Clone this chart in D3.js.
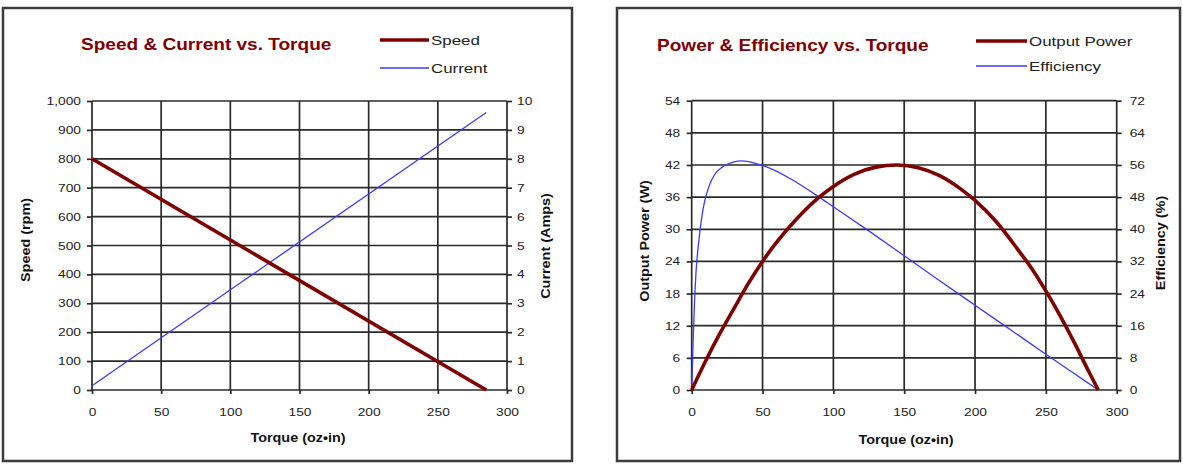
<!DOCTYPE html>
<html>
<head>
<meta charset="utf-8">
<script src="https://cdn.jsdelivr.net/npm/d3@7"></script>
<style>
  body { margin: 0; background: #fff; }
  svg text { font-family: "Liberation Sans", Arial, sans-serif; }
</style>
</head>
<body>
<div id="chart"></div>
<script>
// ---- DATA ----
const torqueTicks  = [0, 50, 100, 150, 200, 250, 300];
const speedTicks   = [0, 100, 200, 300, 400, 500, 600, 700, 800, 900, 1000];
const currentTicks = [0, 1, 2, 3, 4, 5, 6, 7, 8, 9, 10];
const powerTicks   = [0, 6, 12, 18, 24, 30, 36, 42, 48, 54];
const effTicks     = [0, 8, 16, 24, 32, 40, 48, 56, 64, 72];

// speed (rpm) and current (A) vs torque (oz-in)
const speedTorque   = [0, 285];
const speedRpm      = [800, 0];
const currentTorque = [0, 285];
const currentAmps   = [0.15, 9.6];

// output power (W) vs torque
const powerTorque = [0, 10, 20, 30, 40, 50, 60, 75, 90, 100, 115, 130, 145, 160, 175, 190, 200, 215, 230, 240, 250, 260, 270, 280, 287];
const powerWatts  = [0, 5.5, 10.6, 15.3, 19.9, 24, 27.6, 32.2, 36, 38, 40.3, 41.6, 42, 41.5, 40, 37.5, 35.4, 31.4, 26.3, 22.7, 18.5, 13.9, 8.9, 3.6, 0];

// efficiency (%) vs torque
const effTorque = [0, 1, 2, 3, 5, 8, 12, 16, 22, 30, 35, 45, 55, 70, 90, 100, 125, 150, 175, 200, 225, 250, 270, 287];
const effPct    = [0, 12, 22, 29, 37, 45, 50.5, 53.5, 55.6, 56.8, 57, 56.4, 55.2, 52.5, 48, 45.6, 39.6, 33.4, 27.2, 21.1, 15.0, 8.9, 4.1, 0];

const DARKRED = "#800000";
const BLUE = "#3a3aff";
const GRID = "#2a2a2a";

const svg = d3.select("#chart").append("svg")
    .attr("width", 1183)
    .attr("height", 464);

// stretch text horizontally like the (widened) original picture
function stretch(sel, f) {
    sel.each(function () {
        const w = this.getComputedTextLength();
        this.setAttribute("textLength", w * f);
        this.setAttribute("lengthAdjust", "spacingAndGlyphs");
    });
}

function zip(xs, ys) { return xs.map((t, i) => [t, ys[i]]); }

function drawPanel(p) {
    const g = svg.append("g");

    // frame
    g.append("rect")
        .attr("x", p.box[0]).attr("y", p.box[1])
        .attr("width", p.box[2] - p.box[0]).attr("height", p.box[3] - p.box[1])
        .attr("fill", "#fff").attr("stroke", "#3c3c3c").attr("stroke-width", 2.5);

    const x  = d3.scaleLinear().domain([0, 300]).range([p.x0, p.x1]);
    const y  = d3.scaleLinear().domain([0, d3.max(p.yTicks)]).range([390, p.top]);
    const y2 = d3.scaleLinear().domain([0, d3.max(p.y2Ticks)]).range([390, p.top]);

    // grid
    g.append("g").selectAll("line").data(torqueTicks).join("line")
        .attr("x1", d => x(d)).attr("x2", d => x(d))
        .attr("y1", y.range()[0]).attr("y2", y.range()[1])
        .attr("stroke", GRID).attr("stroke-width", 1.7);
    g.append("g").selectAll("line").data(p.yTicks).join("line")
        .attr("x1", x.range()[0]).attr("x2", x.range()[1])
        .attr("y1", d => y(d)).attr("y2", d => y(d))
        .attr("stroke", GRID).attr("stroke-width", 1.7);

    // axes
    const axL = g.append("g").attr("transform", `translate(${p.x0},0)`)
        .call(d3.axisLeft(y).tickValues(p.yTicks).tickSize(5).tickPadding(p.padL).tickFormat(p.fmtL));
    const axR = g.append("g").attr("transform", `translate(${p.x1},0)`)
        .call(d3.axisRight(y2).tickValues(p.y2Ticks).tickSize(5).tickPadding(p.padR).tickFormat(d3.format("d")));
    const axB = g.append("g").attr("transform", "translate(0,390)")
        .call(d3.axisBottom(x).tickValues(torqueTicks).tickSize(4).tickPadding(14).tickFormat(d3.format("d")));

    for (const ax of [axL, axR, axB]) {
        ax.select(".domain").remove();
        ax.selectAll(".tick line").attr("stroke", GRID).attr("stroke-width", 1.7);
        ax.selectAll(".tick text")
            .attr("fill", "#222")
            .style("font-size", "11px")
            .call(stretch, 1.25);
    }

    // axis titles
    g.append("text")
        .attr("x", p.xTitle[0]).attr("y", p.xTitle[1])
        .attr("text-anchor", "middle").attr("dy", "0.35em")
        .style("font-size", "12px").style("font-weight", "bold").attr("fill", "#111")
        .text("Torque (oz•in)")
        .call(stretch, 1.2);
    g.append("text")
        .attr("transform", `translate(${p.yTitleL[0]},${p.yTitleL[1]}) rotate(-90)`)
        .attr("text-anchor", "middle").attr("dy", "0.35em")
        .style("font-size", "12px").style("font-weight", "bold").attr("fill", "#111")
        .text(p.labelL)
        .call(stretch, 1.2);
    g.append("text")
        .attr("transform", `translate(${p.yTitleR[0]},${p.yTitleR[1]}) rotate(-90)`)
        .attr("text-anchor", "middle").attr("dy", "0.35em")
        .style("font-size", "12px").style("font-weight", "bold").attr("fill", "#111")
        .text(p.labelR)
        .call(stretch, 1.2);

    // series
    const lineL = d3.line().x(d => x(d[0])).y(d => y(d[1])).curve(d3.curveMonotoneX);
    const lineR = d3.line().x(d => x(d[0])).y(d => y2(d[1])).curve(d3.curveMonotoneX);

    g.append("path").datum(p.seriesR)
        .attr("fill", "none").attr("stroke", BLUE).attr("stroke-width", 1.3)
        .attr("d", lineR);
    g.append("path").datum(p.seriesL)
        .attr("fill", "none").attr("stroke", DARKRED).attr("stroke-width", 3.6)
        .attr("d", lineL);

    // title
    g.append("text")
        .attr("x", p.title[0]).attr("y", p.title[1])
        .attr("dy", "0.35em")
        .style("font-size", "17px").style("font-weight", "bold")
        .attr("fill", DARKRED)
        .text(p.titleText)
        .call(stretch, 1.12);

    // legend
    const leg = [
        { name: p.labelLegL, color: DARKRED, w: 3.6, y: p.legY[0] },
        { name: p.labelLegR, color: BLUE, w: 1.5, y: p.legY[1] }
    ];
    const lg = g.append("g");
    lg.selectAll("line").data(leg).join("line")
        .attr("x1", p.legX[0]).attr("x2", p.legX[1])
        .attr("y1", d => d.y).attr("y2", d => d.y)
        .attr("stroke", d => d.color).attr("stroke-width", d => d.w);
    lg.selectAll("text").data(leg).join("text")
        .attr("x", p.legX[1] + 2).attr("y", d => d.y)
        .attr("dy", "0.35em")
        .style("font-size", "13px").attr("fill", "#222")
        .text(d => d.name)
        .call(stretch, 1.3);
}

drawPanel({
    box: [3, 8, 572, 461],
    x0: 92, x1: 507, top: 101,
    yTicks: speedTicks, y2Ticks: currentTicks,
    fmtL: d3.format(","), padL: 6, padR: 5,
    xTitle: [298, 438], yTitleL: [26, 240], yTitleR: [546, 246],
    labelL: "Speed (rpm)", labelR: "Current (Amps)",
    seriesL: zip(speedTorque, speedRpm),
    seriesR: zip(currentTorque, currentAmps),
    title: [81, 44], titleText: "Speed & Current vs. Torque",
    legX: [380, 429], legY: [40, 68],
    labelLegL: "Speed", labelLegR: "Current"
});

drawPanel({
    box: [617, 8, 1180, 461],
    x0: 691.7, x1: 1116.7, top: 100.7,
    yTicks: powerTicks, y2Ticks: effTicks,
    fmtL: d3.format("d"), padL: 6.5, padR: 8,
    xTitle: [906, 440], yTitleL: [645, 241], yTitleR: [1161, 243],
    labelL: "Output Power (W)", labelR: "Efficiency (%)",
    seriesL: zip(powerTorque, powerWatts),
    seriesR: zip(effTorque, effPct),
    title: [657, 45], titleText: "Power & Efficiency vs. Torque",
    legX: [976, 1027], legY: [41, 66],
    labelLegL: "Output Power", labelLegR: "Efficiency"
});
</script>
</body>
</html>
